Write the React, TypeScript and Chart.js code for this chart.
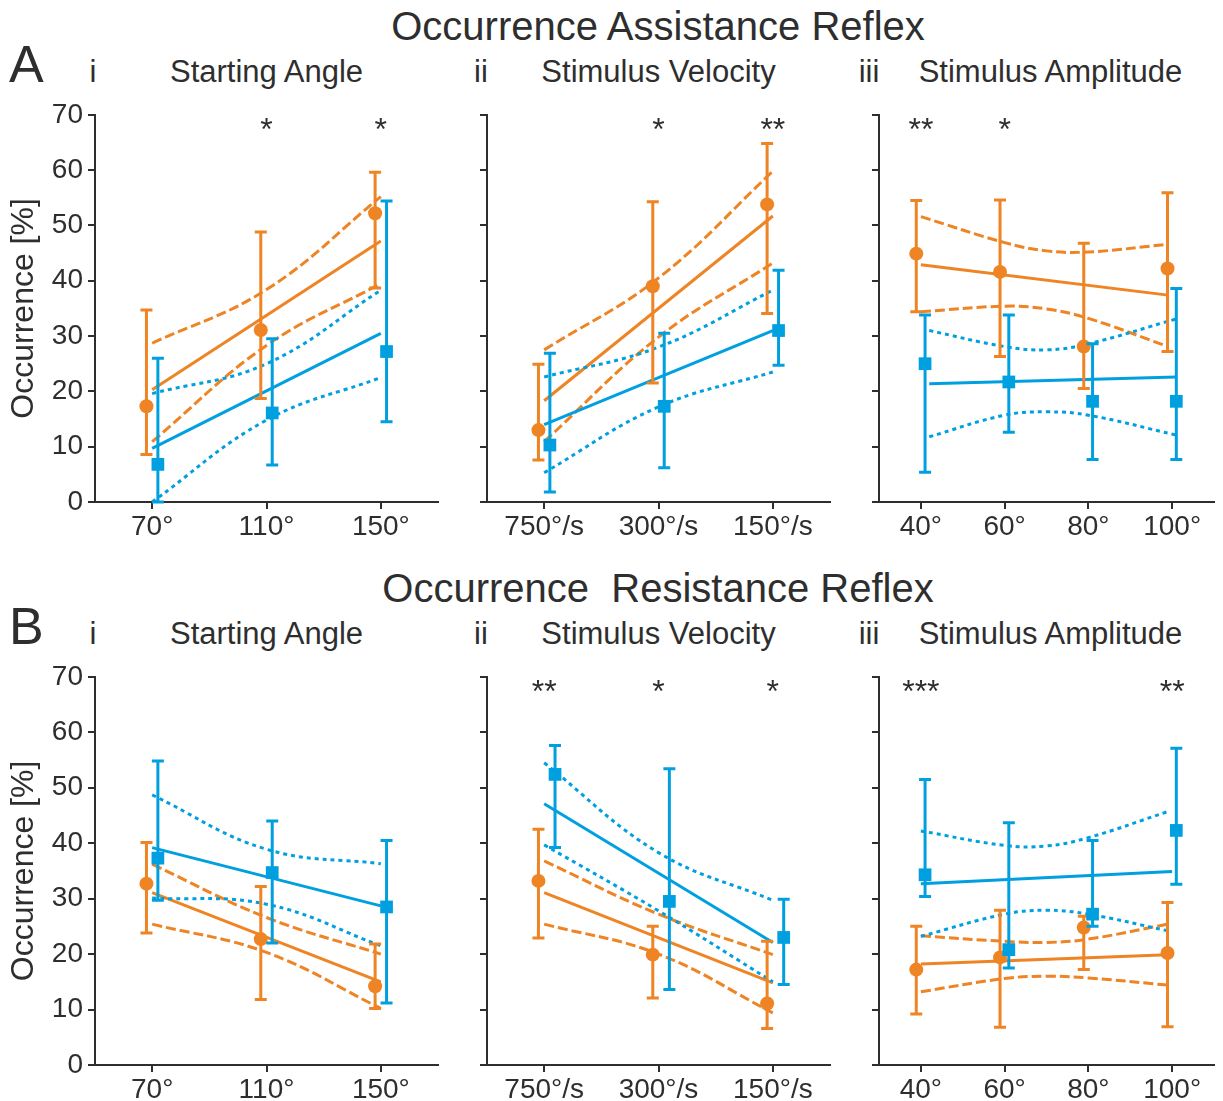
import React, { useEffect, useRef } from 'react';
import { Chart, registerables } from 'chart.js';

Chart.register(...registerables);

const ORANGE = '#EE8424';
const BLUE = '#00A0E0';
const INK = '#2e2e2e';
const FONT = '"Liberation Sans", Arial, Helvetica, sans-serif';
const STAR_LEVEL = 65.5;

// ---------- tick categories ----------
const angleTicks = [70, 110, 150];
const angleLabels = ['70°', '110°', '150°'];
const velocityTicks = [0, 1, 2];
const velocityLabels = ['750°/s', '300°/s', '150°/s'];
const amplitudeTicks = [40, 60, 80, 100];
const amplitudeLabels = ['40°', '60°', '80°', '100°'];
const yTicks = [0, 10, 20, 30, 40, 50, 60, 70];

// ---------- A-i  Assistance / Starting Angle ----------
const aAngOrangeMean = [17.3, 31.1, 52.2];
const aAngOrangeLow = [8.6, 18.7, 38.7];
const aAngOrangeHigh = [34.7, 48.8, 59.6];
const aAngBlueMean = [6.8, 16.1, 27.2];
const aAngBlueLow = [0, 6.7, 14.5];
const aAngBlueHigh = [26.0, 29.5, 54.4];
const aAngFitX = [70, 150];
const aAngOrangeFit = [20.3, 47.2];
const aAngBlueFit = [9.7, 30.5];
const aAngBandX = [70, 110, 150];
const aAngOrangeUpper = [28.7, 38.4, 55.2];
const aAngOrangeLower = [10.9, 28.3, 39.5];
const aAngBlueUpper = [19.6, 25.0, 38.3];
const aAngBlueLower = [0, 14.8, 22.5];
const aAngStarX = [110, 150];
const aAngStars = ['*', '*'];

// ---------- A-ii  Assistance / Stimulus Velocity ----------
const aVelOrangeMean = [13.0, 39.0, 53.8];
const aVelOrangeLow = [7.6, 21.5, 34.1];
const aVelOrangeHigh = [24.9, 54.3, 64.8];
const aVelBlueMean = [10.3, 17.3, 31.0];
const aVelBlueLow = [1.8, 6.2, 24.7];
const aVelBlueHigh = [26.9, 30.5, 41.9];
const aVelFitX = [0, 2];
const aVelOrangeFit = [18.3, 51.7];
const aVelBlueFit = [14.0, 31.0];
const aVelBandX = [0, 1, 2];
const aVelOrangeUpper = [27.5, 40.5, 59.8];
const aVelOrangeLower = [10.9, 29.8, 43.2];
const aVelBlueUpper = [22.6, 28.0, 38.3];
const aVelBlueLower = [5.3, 17.2, 23.5];
const aVelStarX = [1, 2];
const aVelStars = ['*', '**'];

// ---------- A-iii  Assistance / Stimulus Amplitude ----------
const aAmpOrangeMean = [44.9, 41.6, 28.1, 42.2];
const aAmpOrangeLow = [34.4, 26.3, 20.5, 27.2];
const aAmpOrangeHigh = [54.5, 54.6, 46.8, 55.9];
const aAmpBlueMean = [25.0, 21.7, 18.2, 18.2];
const aAmpBlueLow = [5.4, 12.6, 7.7, 7.7];
const aAmpBlueHigh = [33.8, 33.8, 28.6, 38.6];
const aAmpOrangeFitX = [40, 99];
const aAmpOrangeFit = [42.9, 37.4];
const aAmpBlueFitX = [42, 101];
const aAmpBlueFit = [21.4, 22.6];
const aAmpOrangeBandX = [40, 60, 70, 80, 99];
const aAmpOrangeUpper = [51.6, 46.9, 45.4, 45.2, 46.6];
const aAmpOrangeLower = [34.4, 35.4, 34.9, 33.2, 28.1];
const aAmpBlueBandX = [42, 60, 70, 80, 101];
const aAmpBlueUpper = [31.0, 28.1, 27.5, 28.6, 33.1];
const aAmpBlueLower = [11.8, 15.7, 16.3, 15.7, 12.1];
const aAmpStarX = [40, 60];
const aAmpStars = ['**', '*'];

// ---------- B-i  Resistance / Starting Angle ----------
const bAngOrangeMean = [32.7, 22.7, 14.2];
const bAngOrangeLow = [23.8, 11.8, 10.2];
const bAngOrangeHigh = [40.1, 32.2, 21.8];
const bAngBlueMean = [37.3, 34.7, 28.5];
const bAngBlueLow = [29.7, 22.0, 11.2];
const bAngBlueHigh = [54.8, 44.0, 40.5];
const bAngFitX = [70, 150];
const bAngOrangeFit = [31.1, 15.0];
const bAngBlueFit = [39.2, 28.7];
const bAngBandX = [70, 110, 150];
const bAngOrangeUpper = [36.2, 26.6, 20.0];
const bAngOrangeLower = [25.4, 20.3, 10.2];
const bAngBlueUpper = [48.7, 38.9, 36.3];
const bAngBlueLower = [30.1, 29.0, 21.5];
const bAngStarX: number[] = [];
const bAngStars: string[] = [];

// ---------- B-ii  Resistance / Stimulus Velocity ----------
const bVelOrangeMean = [33.2, 19.9, 11.1];
const bVelOrangeLow = [22.9, 12.1, 6.6];
const bVelOrangeHigh = [42.5, 25.0, 22.3];
const bVelBlueMean = [52.4, 29.5, 23.0];
const bVelBlueLow = [39.2, 13.6, 14.5];
const bVelBlueHigh = [57.6, 53.4, 29.9];
const bVelFitX = [0, 2];
const bVelOrangeFit = [31.1, 14.8];
const bVelBlueFit = [47.1, 22.1];
const bVelBandX = [0, 1, 2];
const bVelOrangeUpper = [36.8, 27.2, 19.9];
const bVelOrangeLower = [25.4, 20.0, 9.4];
const bVelBlueUpper = [54.5, 38.3, 29.7];
const bVelBlueLower = [39.7, 27.8, 15.0];
const bVelStarX = [0, 1, 2];
const bVelStars = ['**', '*', '*'];

// ---------- B-iii  Resistance / Stimulus Amplitude ----------
const bAmpOrangeMean = [17.2, 19.4, 24.8, 20.2];
const bAmpOrangeLow = [9.2, 6.8, 17.2, 6.9];
const bAmpOrangeHigh = [25.0, 27.9, 26.8, 29.3];
const bAmpBlueMean = [34.3, 20.8, 27.2, 42.3];
const bAmpBlueLow = [30.4, 17.5, 25.0, 32.6];
const bAmpBlueHigh = [51.5, 43.7, 40.5, 57.1];
const bAmpOrangeFitX = [40, 99];
const bAmpOrangeFit = [18.2, 19.9];
const bAmpBlueFitX = [40, 100];
const bAmpBlueFit = [32.7, 34.9];
const bAmpBandX = [40, 60, 70, 80, 99];
const bAmpOrangeUpper = [23.3, 22.3, 22.1, 22.7, 25.4];
const bAmpOrangeLower = [13.2, 15.6, 16.0, 15.7, 14.4];
const bAmpBlueUpper = [42.2, 39.6, 39.5, 41.0, 45.7];
const bAmpBlueLower = [23.2, 27.2, 27.9, 27.2, 24.2];
const bAmpStarX = [40, 100];
const bAmpStars = ['***', '**'];

// ---------- plugins ----------
const errorBarPlugin = {
  id: 'errorBars',
  beforeDatasetDraw(chart: any, args: any) {
    const ds = chart.data.datasets[args.index];
    if (!ds.errLow) return;
    const { ctx } = chart;
    const x = chart.scales.x;
    const y = chart.scales.y;
    ctx.save();
    ctx.strokeStyle = ds.borderColor;
    ctx.lineWidth = 3;
    ctx.lineCap = 'butt';
    ds.data.forEach((p: any, i: number) => {
      const px = x.getPixelForValue(p.x);
      const yl = y.getPixelForValue(ds.errLow[i]);
      const yh = y.getPixelForValue(ds.errHigh[i]);
      ctx.beginPath();
      ctx.moveTo(px, yl);
      ctx.lineTo(px, yh);
      ctx.moveTo(px - 6, yl);
      ctx.lineTo(px + 6, yl);
      ctx.moveTo(px - 6, yh);
      ctx.lineTo(px + 6, yh);
      ctx.stroke();
    });
    ctx.restore();
  },
};

const starsPlugin = {
  id: 'stars',
  afterDatasetsDraw(chart: any, _args: any, opts: any) {
    const items = opts && opts.items ? opts.items : [];
    const { ctx } = chart;
    const x = chart.scales.x;
    const y = chart.scales.y;
    ctx.save();
    ctx.fillStyle = INK;
    ctx.font = `32px ${FONT}`;
    ctx.textAlign = 'center';
    ctx.textBaseline = 'alphabetic';
    items.forEach((s: any) => {
      ctx.fillText(s.text, x.getPixelForValue(s.x), y.getPixelForValue(STAR_LEVEL));
    });
    ctx.restore();
  },
};

// ---------- helpers ----------
const pts = (xs: number[], ys: number[], dx = 0) => xs.map((v, i) => ({ x: v + dx, y: ys[i] }));

type Series = { mean: number[]; low: number[]; high: number[]; fitX: number[]; fit: number[]; bandX: number[]; upper: number[]; lower: number[] };

type PanelCfg = {
  left: number; top: number; width: number; height: number; yw: number; pr: number;
  ticks: number[]; labels: string[]; xmin: number; xmax: number;
  dOrange: number; dBlue: number; showY: boolean;
  orange: Series; blue: Series; starX: number[]; stars: string[];
};

function buildConfig(c: PanelCfg): any {
  const lineDs = (data: any[], color: string, dash: number[], tension: number) => ({
    type: 'line',
    data,
    borderColor: color,
    borderWidth: 3,
    borderDash: dash,
    pointRadius: 0,
    fill: false,
    tension,
    showLine: true,
  });
  const markerDs = (s: Series, color: string, style: string, radius: number, d: number) => ({
    type: 'line',
    data: pts(c.ticks, s.mean, d),
    errLow: s.low,
    errHigh: s.high,
    showLine: false,
    borderColor: color,
    backgroundColor: color,
    pointBackgroundColor: color,
    pointBorderColor: color,
    pointBorderWidth: 0,
    pointStyle: style,
    pointRadius: radius,
    clip: false,
  });
  const gridCfg = { drawOnChartArea: false, drawTicks: true, tickLength: 7, color: INK, lineWidth: 2 };
  return {
    type: 'line',
    data: {
      datasets: [
        markerDs(c.blue, BLUE, 'rect', 9, c.dBlue),
        markerDs(c.orange, ORANGE, 'circle', 7, c.dOrange),
        lineDs(pts(c.blue.fitX, c.blue.fit), BLUE, [], 0),
        lineDs(pts(c.blue.bandX, c.blue.upper), BLUE, [4, 4], 0.4),
        lineDs(pts(c.blue.bandX, c.blue.lower), BLUE, [4, 4], 0.4),
        lineDs(pts(c.orange.fitX, c.orange.fit), ORANGE, [], 0),
        lineDs(pts(c.orange.bandX, c.orange.upper), ORANGE, [10, 4], 0.4),
        lineDs(pts(c.orange.bandX, c.orange.lower), ORANGE, [10, 4], 0.4),
      ],
    },
    options: {
      responsive: false,
      animation: false,
      events: [],
      layout: { padding: { top: 20, right: c.pr, bottom: 0, left: 0 } },
      plugins: {
        legend: { display: false },
        tooltip: { enabled: false },
        title: { display: false },
        stars: { items: c.starX.map((v, i) => ({ x: v, text: c.stars[i] })) },
      },
      scales: {
        x: {
          type: 'linear',
          min: c.xmin,
          max: c.xmax,
          afterBuildTicks: (s: any) => {
            s.ticks = c.ticks.map((v) => ({ value: v }));
          },
          afterFit: (s: any) => {
            s.height = 36;
          },
          ticks: {
            callback: (_v: any, i: number) => c.labels[i],
            color: INK,
            font: { family: FONT, size: 28 },
            padding: 1,
            autoSkip: false,
            maxRotation: 0,
          },
          grid: gridCfg,
          border: { display: true, color: INK, width: 2 },
        },
        y: {
          type: 'linear',
          min: 0,
          max: 70,
          afterBuildTicks: (s: any) => {
            s.ticks = yTicks.map((v) => ({ value: v }));
          },
          afterFit: (s: any) => {
            s.width = c.yw;
          },
          ticks: {
            callback: (v: any) => (c.showY ? String(v) : ''),
            color: INK,
            font: { family: FONT, size: 28 },
            padding: 5,
          },
          title: {
            display: c.showY,
            text: 'Occurrence [%]',
            color: INK,
            font: { family: FONT, size: 32 },
            padding: { top: 5, bottom: 0 },
          },
          grid: gridCfg,
          border: { display: true, color: INK, width: 2 },
        },
      },
    },
    plugins: [errorBarPlugin, starsPlugin],
  };
}

function Panel({ cfg }: { cfg: PanelCfg }) {
  const ref = useRef<HTMLCanvasElement>(null);
  useEffect(() => {
    const chart = new Chart(ref.current as HTMLCanvasElement, buildConfig(cfg));
    return () => chart.destroy();
  }, [cfg]);
  return (
    <canvas
      ref={ref}
      width={cfg.width}
      height={cfg.height}
      style={{ position: 'absolute', left: cfg.left, top: cfg.top, width: cfg.width, height: cfg.height }}
    />
  );
}

const ROW_A_TOP = 93;
const ROW_B_TOP = 655;
const ROW_A_H = 445;
const ROW_B_H = 446;

const col1 = { left: 0, width: 450, yw: 95, pr: 12 };
const col2 = { left: 450, width: 392, yw: 37, pr: 12 };
const col3 = { left: 842, width: 381, yw: 37, pr: 1 };

const angleAxis = { ticks: angleTicks, labels: angleLabels, xmin: 50, xmax: 170, dOrange: -2, dBlue: 2 };
const velAxisA = { ticks: velocityTicks, labels: velocityLabels, xmin: -0.5, xmax: 2.5, dOrange: -0.05, dBlue: 0.05 };
const velAxisB = { ticks: velocityTicks, labels: velocityLabels, xmin: -0.5, xmax: 2.5, dOrange: -0.05, dBlue: 0.095 };
const ampAxis = { ticks: amplitudeTicks, labels: amplitudeLabels, xmin: 30, xmax: 110, dOrange: -1.1, dBlue: 1.0 };

const panels: PanelCfg[] = [
  {
    ...col1, ...angleAxis, top: ROW_A_TOP, height: ROW_A_H, showY: true,
    orange: { mean: aAngOrangeMean, low: aAngOrangeLow, high: aAngOrangeHigh, fitX: aAngFitX, fit: aAngOrangeFit, bandX: aAngBandX, upper: aAngOrangeUpper, lower: aAngOrangeLower },
    blue: { mean: aAngBlueMean, low: aAngBlueLow, high: aAngBlueHigh, fitX: aAngFitX, fit: aAngBlueFit, bandX: aAngBandX, upper: aAngBlueUpper, lower: aAngBlueLower },
    starX: aAngStarX, stars: aAngStars,
  },
  {
    ...col2, ...velAxisA, top: ROW_A_TOP, height: ROW_A_H, showY: false,
    orange: { mean: aVelOrangeMean, low: aVelOrangeLow, high: aVelOrangeHigh, fitX: aVelFitX, fit: aVelOrangeFit, bandX: aVelBandX, upper: aVelOrangeUpper, lower: aVelOrangeLower },
    blue: { mean: aVelBlueMean, low: aVelBlueLow, high: aVelBlueHigh, fitX: aVelFitX, fit: aVelBlueFit, bandX: aVelBandX, upper: aVelBlueUpper, lower: aVelBlueLower },
    starX: aVelStarX, stars: aVelStars,
  },
  {
    ...col3, ...ampAxis, top: ROW_A_TOP, height: ROW_A_H, showY: false,
    orange: { mean: aAmpOrangeMean, low: aAmpOrangeLow, high: aAmpOrangeHigh, fitX: aAmpOrangeFitX, fit: aAmpOrangeFit, bandX: aAmpOrangeBandX, upper: aAmpOrangeUpper, lower: aAmpOrangeLower },
    blue: { mean: aAmpBlueMean, low: aAmpBlueLow, high: aAmpBlueHigh, fitX: aAmpBlueFitX, fit: aAmpBlueFit, bandX: aAmpBlueBandX, upper: aAmpBlueUpper, lower: aAmpBlueLower },
    starX: aAmpStarX, stars: aAmpStars,
  },
  {
    ...col1, ...angleAxis, top: ROW_B_TOP, height: ROW_B_H, showY: true,
    orange: { mean: bAngOrangeMean, low: bAngOrangeLow, high: bAngOrangeHigh, fitX: bAngFitX, fit: bAngOrangeFit, bandX: bAngBandX, upper: bAngOrangeUpper, lower: bAngOrangeLower },
    blue: { mean: bAngBlueMean, low: bAngBlueLow, high: bAngBlueHigh, fitX: bAngFitX, fit: bAngBlueFit, bandX: bAngBandX, upper: bAngBlueUpper, lower: bAngBlueLower },
    starX: bAngStarX, stars: bAngStars,
  },
  {
    ...col2, ...velAxisB, top: ROW_B_TOP, height: ROW_B_H, showY: false,
    orange: { mean: bVelOrangeMean, low: bVelOrangeLow, high: bVelOrangeHigh, fitX: bVelFitX, fit: bVelOrangeFit, bandX: bVelBandX, upper: bVelOrangeUpper, lower: bVelOrangeLower },
    blue: { mean: bVelBlueMean, low: bVelBlueLow, high: bVelBlueHigh, fitX: bVelFitX, fit: bVelBlueFit, bandX: bVelBandX, upper: bVelBlueUpper, lower: bVelBlueLower },
    starX: bVelStarX, stars: bVelStars,
  },
  {
    ...col3, ...ampAxis, top: ROW_B_TOP, height: ROW_B_H, showY: false,
    orange: { mean: bAmpOrangeMean, low: bAmpOrangeLow, high: bAmpOrangeHigh, fitX: bAmpOrangeFitX, fit: bAmpOrangeFit, bandX: bAmpBandX, upper: bAmpOrangeUpper, lower: bAmpOrangeLower },
    blue: { mean: bAmpBlueMean, low: bAmpBlueLow, high: bAmpBlueHigh, fitX: bAmpBlueFitX, fit: bAmpBlueFit, bandX: bAmpBandX, upper: bAmpBlueUpper, lower: bAmpBlueLower },
    starX: bAmpStarX, stars: bAmpStars,
  },
];

function Label({ text, cx, left, baseline, size }: { text: string; cx?: number; left?: number; baseline: number; size: number }) {
  const style: React.CSSProperties = {
    position: 'absolute',
    top: baseline - 0.8465 * size,
    fontFamily: FONT,
    fontSize: size,
    lineHeight: `${size}px`,
    color: INK,
    whiteSpace: 'pre',
  };
  if (cx !== undefined) {
    style.left = cx;
    style.transform = 'translateX(-50%)';
  } else {
    style.left = left;
  }
  return <div style={style}>{text}</div>;
}

const ROW_SHIFT = 562;

export default function App() {
  const rows = [
    { letter: 'A', title: 'Occurrence Assistance Reflex', shift: 0 },
    { letter: 'B', title: 'Occurrence  Resistance Reflex', shift: ROW_SHIFT },
  ];
  return (
    <div style={{ position: 'fixed', left: 0, top: 0, width: 1223, height: 1101, overflow: 'hidden', background: '#fff' }}>
      {rows.map((r) => (
        <React.Fragment key={r.letter}>
          <Label text={r.title} cx={658} baseline={40 + r.shift} size={40} />
          <Label text={r.letter} left={9} baseline={82 + r.shift} size={52} />
          <Label text="i" cx={93} baseline={82 + r.shift} size={31} />
          <Label text="ii" cx={481} baseline={82 + r.shift} size={31} />
          <Label text="iii" cx={869} baseline={82 + r.shift} size={31} />
          <Label text="Starting Angle" cx={266.5} baseline={82 + r.shift} size={31} />
          <Label text="Stimulus Velocity" cx={658.5} baseline={82 + r.shift} size={31} />
          <Label text="Stimulus Amplitude" cx={1050.5} baseline={82 + r.shift} size={31} />
        </React.Fragment>
      ))}
      {panels.map((p, i) => (
        <Panel key={i} cfg={p} />
      ))}
    </div>
  );
}
